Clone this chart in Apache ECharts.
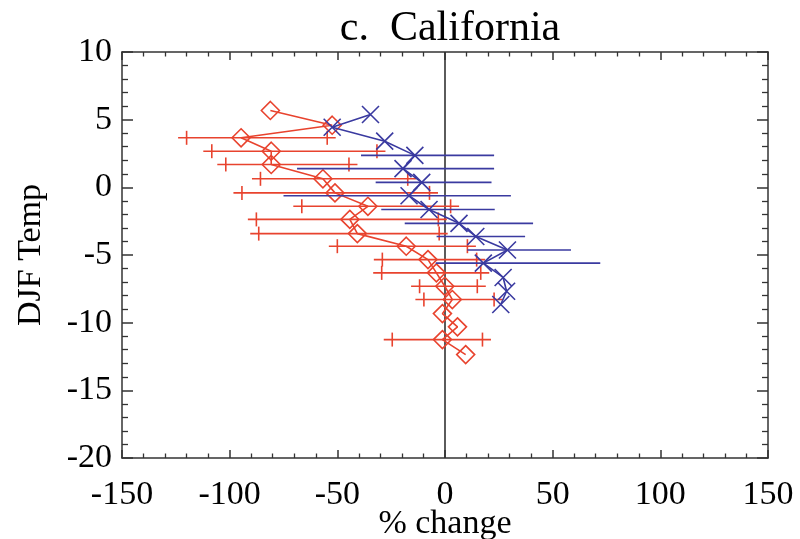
<!DOCTYPE html>
<html>
<head>
<meta charset="utf-8">
<script src="https://cdn.jsdelivr.net/npm/echarts@6/dist/echarts.min.js"></script>
<style>
html,body{margin:0;padding:0;background:#fff;}
#chart{width:800px;height:539px;}
</style>
</head>
<body>
<div id="chart"></div>
<script>
// ---- data ----
var redTemp  = [5.68, 4.59, 3.66, 2.67, 1.69, 0.63, -0.41, -1.40, -2.37, -3.42, -4.35, -5.34, -6.32, -7.31, -8.29, -9.33, -10.31, -11.25, -12.36];
var redPct   = [-81.1, -52.4, -94.7, -80.7, -80.7, -56.7, -51.1, -35.8, -44.2, -40.7, -18.0, -7.9, -4.0, -0.1, 3.4, -1.2, 5.8, -1.2, 9.6];

var redBarTemp = [3.66, 2.67, 1.69, 0.63, -0.41, -1.40, -2.37, -3.42, -4.35, -5.34, -6.32, -7.31, -8.29, -11.25];
var redBarLo   = [-120.0, -108.3, -101.8, -85.7, -94.3, -66.5, -87.6, -86.5, -50.0, -29.1, -29.4, -11.8, -9.8, -24.5];
var redBarHi   = [-54.7, -31.6, -44.6, -17.3, -7.2, 2.6, -3.1, -2.7, 10.4, 14.7, 16.6, 15.0, 22.8, 17.4];

var blueTemp = [5.38, 4.44, 3.41, 2.36, 1.38, 0.37, -0.62, -1.64, -2.66, -3.63, -4.63, -5.60, -6.66, -7.68, -8.66];
var bluePct  = [-34.6, -52.4, -28.0, -14.0, -19.5, -10.8, -16.7, -7.4, 6.5, 14.3, 29.0, 17.8, 27.0, 28.6, 25.9];

var blueBarTemp = [2.36, 1.38, 0.37, -0.62, -1.64, -2.66, -3.63, -4.63, -5.60];
var blueBarLo   = [-39.0, -68.7, -32.2, -75.0, -29.6, -18.7, -3.9, 10.4, -4.3];
var blueBarHi   = [22.8, 22.8, 21.6, 30.6, 23.1, 40.9, 37.2, 58.5, 72.1];

var xTicks = [-150, -100, -50, 0, 50, 100, 150];
var yTicks = [-20, -15, -10, -5, 0, 5, 10];

var titleText = 'c.  California';
var xName = '% change';
var yName = 'DJF Temp';

// ---- styling ----
var RED = '#e8432e';
var BLUE = '#3a3aa0';
var AXIS = '#333333';
var FONT = '"Liberation Serif", "DejaVu Serif", serif';

function zip2(a, b) { return a.map(function (v, i) { return [v, b[i]]; }); }
function zip3(lo, hi, t) { return lo.map(function (v, i) { return [v, hi[i], t[i]]; }); }

function barRenderer(color, caps) {
  return function (params, api) {
    var lo = api.value(0), hi = api.value(1), t = api.value(2);
    var p1 = api.coord([lo, t]);
    var p2 = api.coord([hi, t]);
    var arm = caps ? 8.5 : 0;
    var style = { stroke: color, lineWidth: 1.6 };
    var children = [{
      type: 'line',
      shape: { x1: p1[0] - arm, y1: p1[1], x2: p2[0] + arm, y2: p2[1] },
      style: style
    }];
    if (caps) {
      children.push({ type: 'line', shape: { x1: p1[0], y1: p1[1] - 7, x2: p1[0], y2: p1[1] + 7 }, style: style });
      children.push({ type: 'line', shape: { x1: p2[0], y1: p2[1] - 7, x2: p2[0], y2: p2[1] + 7 }, style: style });
    }
    return { type: 'group', children: children };
  };
}

var axisLineStyle = { color: AXIS, width: 1.5 };
function xAxisDef(pos, labels) {
  return {
    type: 'value', position: pos, min: -150, max: 150, interval: 50,
    axisLine: { show: true, onZero: false, lineStyle: axisLineStyle },
    axisTick: { show: true, inside: true, length: 8, lineStyle: axisLineStyle },
    minorTick: { show: true, splitNumber: 5, length: 4.5, lineStyle: { color: AXIS, width: 1.3 } },
    splitLine: { show: false },
    axisLabel: labels ? { show: true, margin: 20, color: '#000', fontFamily: FONT, fontSize: 34 } : { show: false },
    name: labels ? xName : '',
    nameLocation: 'middle', nameGap: 49, nameMoveOverlap: false,
    nameTextStyle: { color: '#000', fontFamily: FONT, fontSize: 34 }
  };
}
function yAxisDef(pos, labels) {
  return {
    type: 'value', position: pos, min: -20, max: 10, interval: 5,
    axisLine: { show: true, onZero: false, lineStyle: axisLineStyle },
    axisTick: { show: true, inside: true, length: 11, lineStyle: axisLineStyle },
    minorTick: { show: true, splitNumber: 5, length: 6, lineStyle: { color: AXIS, width: 1.3 } },
    splitLine: { show: false },
    axisLabel: labels ? { show: true, margin: 10, color: '#000', fontFamily: FONT, fontSize: 34 } : { show: false },
    name: labels ? yName : '',
    nameLocation: 'middle', nameGap: 74, nameRotate: 90, nameMoveOverlap: false,
    nameTextStyle: { color: '#000', fontFamily: FONT, fontSize: 34 }
  };
}

var chart = echarts.init(document.getElementById('chart'), null, { renderer: 'canvas' });
chart.setOption({
  animation: false,
  backgroundColor: '#ffffff',
  title: {
    text: titleText, left: 445, textAlign: 'center', top: 3,
    textStyle: { color: '#000', fontFamily: FONT, fontSize: 42, fontWeight: 'normal' }
  },
  grid: { left: 122, right: 32, top: 52, bottom: 81, containLabel: false, outerBoundsMode: 'none' },
  xAxis: [xAxisDef('bottom', true), xAxisDef('top', false)],
  yAxis: [yAxisDef('left', true), yAxisDef('right', false)],
  series: [
    {
      type: 'line', data: [[0, -20], [0, 10]], symbol: 'none', silent: true,
      lineStyle: { color: AXIS, width: 1.6 }, z: 1
    },
    {
      type: 'custom', renderItem: barRenderer(RED, true),
      data: zip3(redBarLo, redBarHi, redBarTemp),
      encode: { x: [0, 1], y: 2 }, z: 2, silent: true
    },
    {
      type: 'line', data: zip2(redPct, redTemp),
      symbol: 'diamond', symbolSize: 18, showAllSymbol: true,
      lineStyle: { color: RED, width: 1.6 },
      itemStyle: { color: 'transparent', borderColor: RED, borderWidth: 1.6 },
      z: 3, silent: true
    },
    {
      type: 'custom', renderItem: barRenderer(BLUE, false),
      data: zip3(blueBarLo, blueBarHi, blueBarTemp),
      encode: { x: [0, 1], y: 2 }, z: 4, silent: true
    },
    {
      type: 'line', data: zip2(bluePct, blueTemp),
      symbol: 'path://M0,0L10,10M10,0L0,10', symbolSize: 17, showAllSymbol: true,
      lineStyle: { color: BLUE, width: 1.6 },
      itemStyle: { color: 'transparent', borderColor: BLUE, borderWidth: 1.6 },
      z: 5, silent: true
    }
  ]
});
</script>
</body>
</html>
